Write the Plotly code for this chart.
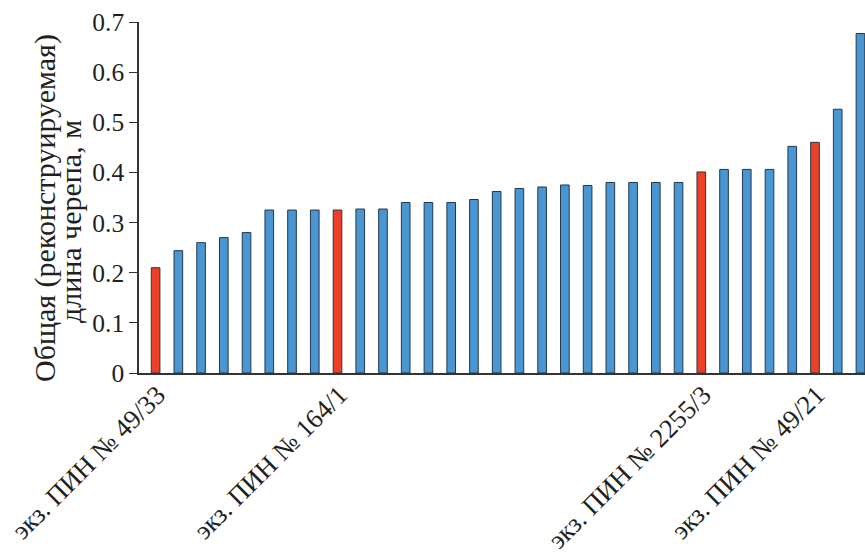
import plotly.graph_objects as go

# Data
lengths = [0.210, 0.244, 0.260, 0.270, 0.280, 0.325, 0.325, 0.325, 0.325, 0.327,
           0.327, 0.340, 0.340, 0.340, 0.346, 0.362, 0.368, 0.371, 0.375, 0.374,
           0.380, 0.380, 0.380, 0.380, 0.401, 0.406, 0.406, 0.406, 0.452, 0.460,
           0.526, 0.677]
highlighted = [0, 8, 24, 29]
tick_labels = ["экз. ПИН № 49/33", "экз. ПИН № 164/1", "экз. ПИН № 2255/3", "экз. ПИН № 49/21"]
y_ticks = [0, 0.1, 0.2, 0.3, 0.4, 0.5, 0.6, 0.7]
y_tick_text = ["0", "0.1", "0.2", "0.3", "0.4", "0.5", "0.6", "0.7"]
y_title_lines = ["Общая (реконструируемая)", "длина черепа, м"]

BLUE = "#4a96d2"
RED = "#ec4126"
positions = list(range(len(lengths)))
colors = [RED if i in highlighted else BLUE for i in positions]

FONT = "'Liberation Serif', 'Times New Roman', Times, serif"
TXT = "#231f20"

fig = go.Figure(go.Bar(
    x=positions, y=lengths,
    marker=dict(color=colors, line=dict(color="#23384d", width=1)),
    width=0.38,
))

fig.update_layout(
    width=865, height=555,
    margin=dict(l=139, r=0, t=22, b=182),
    paper_bgcolor="white", plot_bgcolor="white",
    font=dict(family=FONT, size=25, color=TXT),
    showlegend=False,
)
fig.update_xaxes(
    range=[-0.73, 31.2], automargin=False,
    tickvals=highlighted, ticktext=tick_labels,
    tickangle=-45, ticks="", showgrid=False, zeroline=False,
    showline=True, linecolor="#333333", linewidth=1.5,
    tickfont=dict(family=FONT, size=26.5, color=TXT),
    ticklabelshift=2, ticklabelstandoff=-6,
)
fig.update_yaxes(
    range=[0, 0.7], automargin=False,
    tickvals=y_ticks, ticktext=y_tick_text,
    ticks="outside", ticklen=8, tickcolor="#333333", tickwidth=1.2,
    showgrid=False, zeroline=False,
    showline=True, linecolor="#333333", linewidth=1.5,
    tickfont=dict(family=FONT, size=25.5, color=TXT),
)

# Y-axis title as two rotated lines
for line, shift, ypos in zip(y_title_lines, [-94, -69], [0.470, 0.430]):
    fig.add_annotation(
        text=line, textangle=-90, showarrow=False,
        xref="paper", yref="paper", x=0, y=ypos,
        xanchor="center", yanchor="middle", xshift=shift,
        font=dict(family=FONT, size=30, color=TXT),
    )

fig.write_html("out.html", config={"displayModeBar": False},
               post_script="document.body.style.margin='0px';")
